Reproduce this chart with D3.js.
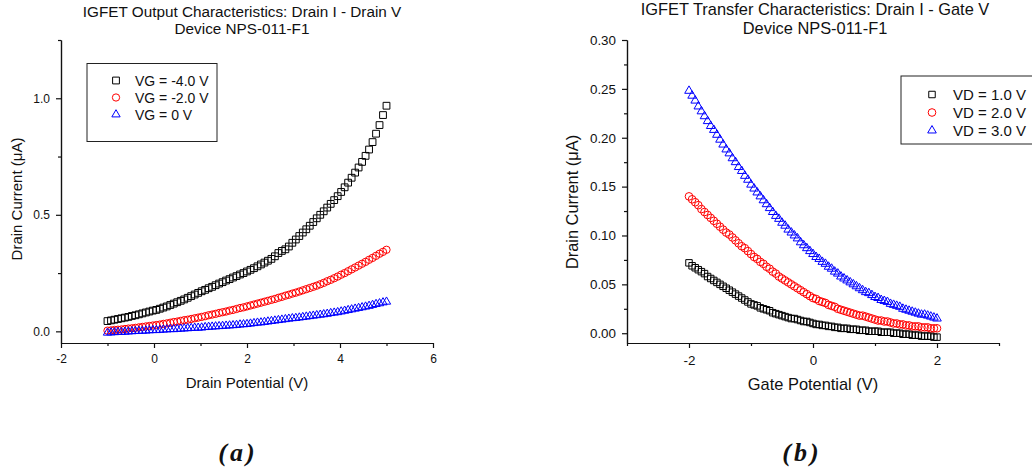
<!DOCTYPE html>
<html>
<head>
<meta charset="utf-8">
<script src="https://cdn.jsdelivr.net/npm/d3@7"></script>
<style>
	body { margin: 0; background: #fff; }
	svg { display: block; font-family: "Liberation Sans", Arial, sans-serif; }
</style>
</head>
<body>
<svg id="chart" width="1032" height="475"></svg>
<script>
// ---- panel (a): drain sweep -1 .. 5 V, 81 points
const drainV = d3.range(81).map(i => -1 + i * 0.075)
const vgLabels = ["VG = -4.0 V", "VG = -2.0 V", "VG = 0 V"]
const idVgMinus4 = [
	0.044, 0.047, 0.050, 0.053, 0.056, 0.059, 0.062, 0.066, 0.069, 0.073,
	0.077, 0.081, 0.085, 0.089, 0.092, 0.097, 0.102, 0.107, 0.113, 0.119,
	0.125, 0.131, 0.137, 0.144, 0.151, 0.158, 0.165, 0.172, 0.178, 0.185,
	0.191, 0.198, 0.205, 0.211, 0.218, 0.224, 0.231, 0.237, 0.244, 0.250,
	0.257, 0.264, 0.271, 0.279, 0.287, 0.295, 0.303, 0.311, 0.322, 0.336,
	0.345, 0.352, 0.364, 0.380, 0.394, 0.409, 0.424, 0.438, 0.453, 0.469,
	0.485, 0.500, 0.515, 0.531, 0.547, 0.563, 0.580, 0.598, 0.618, 0.638,
	0.659, 0.681, 0.703, 0.727, 0.753, 0.780, 0.812, 0.848, 0.885, 0.928,
	0.968]
const idVgMinus2 = [
	0.003, 0.004, 0.006, 0.007, 0.008, 0.010, 0.012, 0.013, 0.015, 0.017,
	0.019, 0.021, 0.023, 0.025, 0.027, 0.029, 0.032, 0.034, 0.037, 0.040,
	0.042, 0.045, 0.048, 0.050, 0.053, 0.056, 0.059, 0.062, 0.065, 0.069,
	0.072, 0.075, 0.079, 0.082, 0.085, 0.089, 0.092, 0.096, 0.100, 0.103,
	0.107, 0.111, 0.115, 0.119, 0.123, 0.127, 0.131, 0.135, 0.139, 0.144,
	0.148, 0.153, 0.157, 0.162, 0.166, 0.171, 0.176, 0.181, 0.186, 0.191,
	0.196, 0.202, 0.208, 0.215, 0.221, 0.228, 0.235, 0.243, 0.250, 0.258,
	0.266, 0.274, 0.282, 0.290, 0.298, 0.307, 0.315, 0.324, 0.333, 0.341,
	0.350]
const idVg0 = [
	-0.006, -0.005, -0.004, -0.003, -0.003, -0.002, -0.001, 0.000, 0.001, 0.002,
	0.002, 0.003, 0.004, 0.005, 0.005, 0.006, 0.007, 0.008, 0.009, 0.009,
	0.010, 0.011, 0.012, 0.013, 0.014, 0.015, 0.015, 0.016, 0.018, 0.019,
	0.020, 0.021, 0.022, 0.023, 0.024, 0.025, 0.026, 0.027, 0.029, 0.030,
	0.031, 0.033, 0.035, 0.037, 0.038, 0.040, 0.042, 0.044, 0.046, 0.048,
	0.050, 0.052, 0.054, 0.056, 0.057, 0.059, 0.061, 0.063, 0.065, 0.067,
	0.069, 0.071, 0.073, 0.075, 0.078, 0.080, 0.082, 0.085, 0.088, 0.091,
	0.094, 0.097, 0.100, 0.103, 0.106, 0.109, 0.113, 0.117, 0.120, 0.124,
	0.127]

// ---- panel (b): gate sweep -2 .. 2 V, 81 points
const gateV = d3.range(81).map(i => -2 + i * 0.05)
const vdLabels = ["VD = 1.0 V", "VD = 2.0 V", "VD = 3.0 V"]
const idVd1 = [
	0.072, 0.069, 0.067, 0.065, 0.063, 0.061, 0.058, 0.056, 0.054, 0.052,
	0.050, 0.048, 0.046, 0.044, 0.042, 0.040, 0.038, 0.036, 0.034, 0.032,
	0.030, 0.029, 0.028, 0.026, 0.025, 0.024, 0.023, 0.021, 0.020, 0.019,
	0.018, 0.017, 0.016, 0.015, 0.015, 0.014, 0.013, 0.012, 0.012, 0.011,
	0.010, 0.009, 0.009, 0.008, 0.008, 0.007, 0.007, 0.006, 0.006, 0.005,
	0.005, 0.005, 0.004, 0.004, 0.004, 0.003, 0.003, 0.003, 0.002, 0.002,
	0.002, 0.002, 0.001, 0.001, 0.001, 0.001, 0.000, 0.000, 0.000, -0.001,
	-0.001, -0.001, -0.002, -0.002, -0.002, -0.003, -0.003, -0.003, -0.003, -0.004,
	-0.004]
const idVd2 = [
	0.140, 0.137, 0.134, 0.131, 0.127, 0.124, 0.121, 0.118, 0.115, 0.112,
	0.109, 0.106, 0.103, 0.101, 0.098, 0.095, 0.092, 0.089, 0.087, 0.084,
	0.081, 0.078, 0.076, 0.073, 0.071, 0.068, 0.066, 0.063, 0.061, 0.058,
	0.056, 0.054, 0.052, 0.050, 0.048, 0.046, 0.044, 0.042, 0.040, 0.038,
	0.036, 0.035, 0.033, 0.032, 0.031, 0.029, 0.028, 0.027, 0.025, 0.024,
	0.023, 0.022, 0.021, 0.020, 0.019, 0.018, 0.018, 0.017, 0.016, 0.015,
	0.014, 0.013, 0.013, 0.012, 0.012, 0.011, 0.010, 0.010, 0.009, 0.009,
	0.008, 0.008, 0.007, 0.007, 0.007, 0.006, 0.006, 0.006, 0.005, 0.005,
	0.005]
const idVd3 = [
	0.248, 0.243, 0.238, 0.232, 0.227, 0.222, 0.217, 0.212, 0.208, 0.203,
	0.198, 0.193, 0.188, 0.184, 0.179, 0.175, 0.170, 0.166, 0.161, 0.157,
	0.152, 0.148, 0.144, 0.140, 0.136, 0.132, 0.128, 0.124, 0.120, 0.117,
	0.113, 0.110, 0.106, 0.103, 0.100, 0.097, 0.093, 0.090, 0.087, 0.084,
	0.081, 0.078, 0.076, 0.073, 0.071, 0.068, 0.066, 0.063, 0.061, 0.058,
	0.056, 0.054, 0.052, 0.050, 0.048, 0.046, 0.044, 0.042, 0.041, 0.039,
	0.037, 0.036, 0.034, 0.033, 0.032, 0.030, 0.029, 0.028, 0.027, 0.025,
	0.024, 0.023, 0.022, 0.021, 0.020, 0.019, 0.019, 0.018, 0.017, 0.016,
	0.015]

const colors = ["#000000", "#ff0000", "#0000ff"]
const shapes = [d3.symbolSquare, d3.symbolCircle, d3.symbolTriangle]

const svg = d3.select("#chart")

// plain hyphen instead of the unicode minus d3.format gives
const hyphen = f => d => d3.format(f)(d).replace("\u2212", "-")

function panel(p) {
	const x = d3.scaleLinear().domain(p.xDomain).range([p.left, p.right])
	const y = d3.scaleLinear().domain(p.yDomain).range([p.bottom, p.top])
	const g = svg.append("g")

	// minor ticks first, then major ones with labels
	g.append("g")
		.attr("transform", `translate(0,${p.bottom})`)
		.call(d3.axisBottom(x).tickValues(p.xMinor).tickSize(3).tickSizeOuter(0).tickFormat(""))
	const xa = g.append("g")
		.attr("transform", `translate(0,${p.bottom})`)
		.call(d3.axisBottom(x).tickValues(p.xMajor).tickSize(5).tickSizeOuter(0).tickFormat(hyphen("d")))
	xa.selectAll("text").attr("y", p.xLabelY).attr("dy", 0)

	g.append("g")
		.attr("transform", `translate(${p.left},0)`)
		.call(d3.axisLeft(y).tickValues(p.yMinor).tickSize(3).tickSizeOuter(0).tickFormat(""))
	g.append("g")
		.attr("transform", `translate(${p.left},0)`)
		.call(d3.axisLeft(y).tickValues(p.yMajor).tickSize(5).tickPadding(6).tickSizeOuter(0).tickFormat(hyphen(p.yFmt)))

	g.selectAll(".tick text")
		.style("font-family", "Liberation Sans, Arial, sans-serif")
		.style("font-size", p.tickFont + "px")
		.attr("fill", "#111")
	g.selectAll(".domain, .tick line").attr("stroke", "#111").attr("stroke-width", 1.2)

	// titles
	const cx = (p.left + p.right) / 2
	g.append("text").attr("x", p.titleX).attr("y", p.titleY[0])
		.attr("text-anchor", "middle").style("font-size", p.titleFont + "px").attr("fill", "#111")
		.text(p.title[0])
	g.append("text").attr("x", p.titleX).attr("y", p.titleY[1])
		.attr("text-anchor", "middle").style("font-size", p.titleFont + "px").attr("fill", "#111")
		.text(p.title[1])

	g.append("text").attr("x", cx).attr("y", p.xTitleY)
		.attr("text-anchor", "middle").style("font-size", p.labelFont + "px").attr("fill", "#111")
		.text(p.xTitle)
	g.append("text")
		.attr("transform", `translate(${p.yTitleX},${p.yTitleCy}) rotate(-90)`)
		.attr("text-anchor", "middle").style("font-size", p.labelFont + "px").attr("fill", "#111")
		.text("Drain Current (\u03bcA)")

	// markers
	p.series.forEach((s, k) => {
		g.append("g").selectAll("path")
			.data(s.map((v, i) => [p.xs[i], v]))
			.enter().append("path")
			.attr("transform", d => `translate(${x(d[0])},${y(d[1])})`)
			.attr("d", d3.symbol().type(shapes[k]).size(p.sizes[k]))
			.attr("fill", "none")
			.attr("stroke", colors[k])
			.attr("stroke-width", 1)
	})

	// legend
	const lg = g.append("g")
	lg.append("rect")
		.attr("x", p.legend.x).attr("y", p.legend.y)
		.attr("width", p.legend.w).attr("height", p.legend.h)
		.attr("fill", "#fff").attr("stroke", "#222").attr("stroke-width", 1)
	p.labels.forEach((t, k) => {
		const ry = p.legend.rowY + k * p.legend.rowH
		lg.append("path")
			.attr("transform", `translate(${p.legend.symX},${ry})`)
			.attr("d", d3.symbol().type(shapes[k]).size(p.sizes[k]))
			.attr("fill", "none").attr("stroke", colors[k]).attr("stroke-width", 1)
		lg.append("text")
			.attr("x", p.legend.textX).attr("y", ry).attr("dy", "0.36em")
			.style("font-size", p.legend.font + "px").attr("fill", "#111")
			.text(t)
	})

	// sub-caption
	svg.append("text")
		.attr("x", p.capX).attr("y", 461)
		.attr("text-anchor", "middle")
		.style("font-family", "Liberation Serif, Times New Roman, serif")
		.style("font-style", "italic").style("font-weight", "bold")
		.style("font-size", "26px").style("letter-spacing", "3px")
		.attr("fill", "#111")
		.text(p.caption)
}

panel({
	xDomain: [-2, 6], yDomain: [-0.05, 1.25],
	left: 61, right: 433, top: 40, bottom: 343,
	xMajor: [-2, 0, 2, 4, 6], xMinor: [-1, 1, 3, 5],
	yMajor: [0, 0.5, 1.0], yMinor: [0.25, 0.75, 1.25], yFmt: ".1f",
	xLabelY: 19.5, tickFont: 12,
	title: ["IGFET Output Characteristics: Drain I - Drain V", "Device NPS-011-F1"],
	titleX: 242, titleY: [17, 34], titleFont: 15.3,
	xTitle: "Drain Potential (V)", xTitleY: 388, labelFont: 15,
	yTitleX: 22, yTitleCy: 199,
	xs: drainV, series: [idVgMinus4, idVgMinus2, idVg0], labels: vgLabels,
	sizes: [46, 42, 30],
	legend: { x: 87, y: 63.5, w: 130, h: 78, symX: 116, textX: 135, rowY: 80.5, rowH: 17, font: 14 },
	caption: "(a)", capX: 238
})

panel({
	xDomain: [-3, 3], yDomain: [-0.01, 0.30],
	left: 627, right: 999, top: 40, bottom: 343,
	xMajor: [-2, 0, 2], xMinor: [-3, -1, 1, 3],
	yMajor: [0, 0.05, 0.10, 0.15, 0.20, 0.25, 0.30],
	yMinor: [0.025, 0.075, 0.125, 0.175, 0.225, 0.275], yFmt: ".2f",
	xLabelY: 22, tickFont: 13.4,
	title: ["IGFET Transfer Characteristics: Drain I - Gate V", "Device NPS-011-F1"],
	titleX: 815, titleY: [15, 34], titleFont: 16.4,
	xTitle: "Gate Potential (V)", xTitleY: 390, labelFont: 16.4,
	yTitleX: 578, yTitleCy: 202,
	xs: gateV, series: [idVd1, idVd2, idVd3], labels: vdLabels,
	sizes: [42, 46, 32],
	legend: { x: 901, y: 76, w: 140, h: 68, symX: 932, textX: 953, rowY: 94.5, rowH: 18, font: 15 },
	caption: "(b)", capX: 802
})
</script>
</body>
</html>
